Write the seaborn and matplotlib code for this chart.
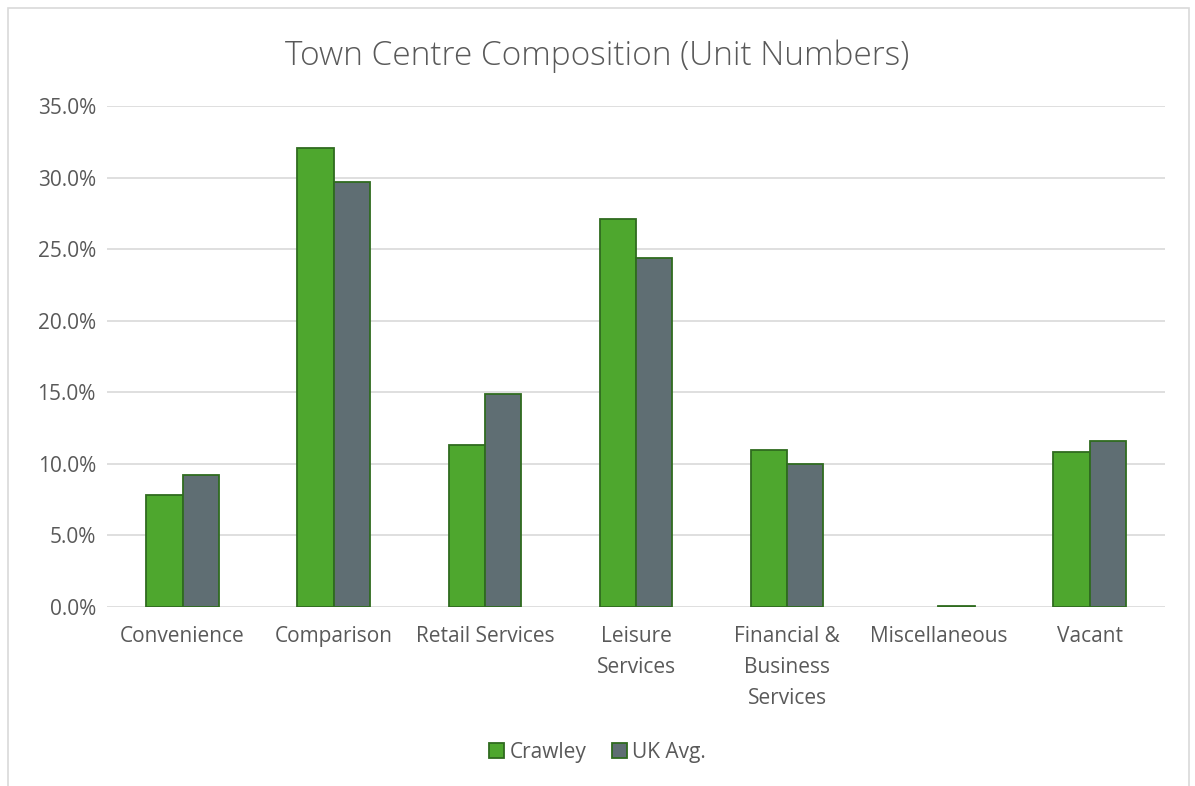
import numpy as np
import pandas as pd
import seaborn as sns
import matplotlib
matplotlib.use('Agg')
import matplotlib.pyplot as plt
from matplotlib.ticker import PercentFormatter, MultipleLocator
from matplotlib.patches import Rectangle

# Data
categories = ["Convenience", "Comparison", "Retail Services", "Leisure\nServices",
              "Financial &\nBusiness\nServices", "Miscellaneous", "Vacant"]
crawley = [7.8, 32.1, 11.3, 27.1, 11.0, 0.0, 10.8]
uk_avg = [9.2, 29.7, 14.9, 24.4, 10.0, 0.1, 11.6]
series_names = ["Crawley", "UK Avg."]

df = pd.DataFrame({
    "Category": categories * 2,
    "Series": [series_names[0]] * len(categories) + [series_names[1]] * len(categories),
    "Value": crawley + uk_avg,
})

sns.set_theme(style="white")
plt.rcParams['font.family'] = ['Open Sans', 'DejaVu Sans']
text_col = "#595959"

fig = plt.figure(figsize=(11.95, 7.86), dpi=100)
ax = fig.add_axes([0.0895, 0.2277, 0.8855, 0.6373])

palette = {"Crawley": "#4EA72E", "UK Avg.": "#5F6E73"}
sns.barplot(data=df, x="Category", y="Value", hue="Series", palette=palette,
            width=0.48, edgecolor="#2F6B1F", linewidth=1.3, saturation=1,
            ax=ax, legend=False, zorder=3)

# zero-height bars: hide their edge line
for p in ax.patches:
    if p.get_height() == 0:
        p.set_visible(False)

ax.set_ylim(0, 35)
ax.yaxis.set_major_locator(MultipleLocator(5))
ax.yaxis.set_major_formatter(PercentFormatter(decimals=1))
ax.grid(axis="y", color="#D9D9D9", linewidth=1.2, zorder=0)
ax.set_xlim(-0.5, len(categories) - 0.5)
for s in ax.spines.values():
    s.set_visible(False)
ax.set_xlabel("")
ax.set_ylabel("")
ax.tick_params(axis="both", length=0, labelsize=15, colors=text_col, pad=8)
ax.tick_params(axis="x", pad=14)
for lbl in ax.get_xticklabels():
    lbl.set_linespacing(1.6)

fig.text(0.5, 0.929, "Town Centre Composition (Unit Numbers)", ha="center", va="center",
         fontsize=24, color=text_col, fontweight="light")

# legend
handles = [Rectangle((0, 0), 1, 1, facecolor=palette[n], edgecolor="#2F6B1F", linewidth=1.3)
           for n in series_names]
fig.legend(handles, series_names, loc="center", bbox_to_anchor=(0.5, 0.043), ncol=2,
           frameon=False, fontsize=15, labelcolor=text_col, handlelength=0.75,
           handleheight=0.75, handletextpad=0.25, columnspacing=1.2)

# chart border
fig.patches.append(Rectangle((0.007, -0.01), 0.988, 1.0, transform=fig.transFigure,
                             fill=False, edgecolor="#D9D9D9", linewidth=1.2))

plt.savefig("out.png", dpi=100)
plt.close()
